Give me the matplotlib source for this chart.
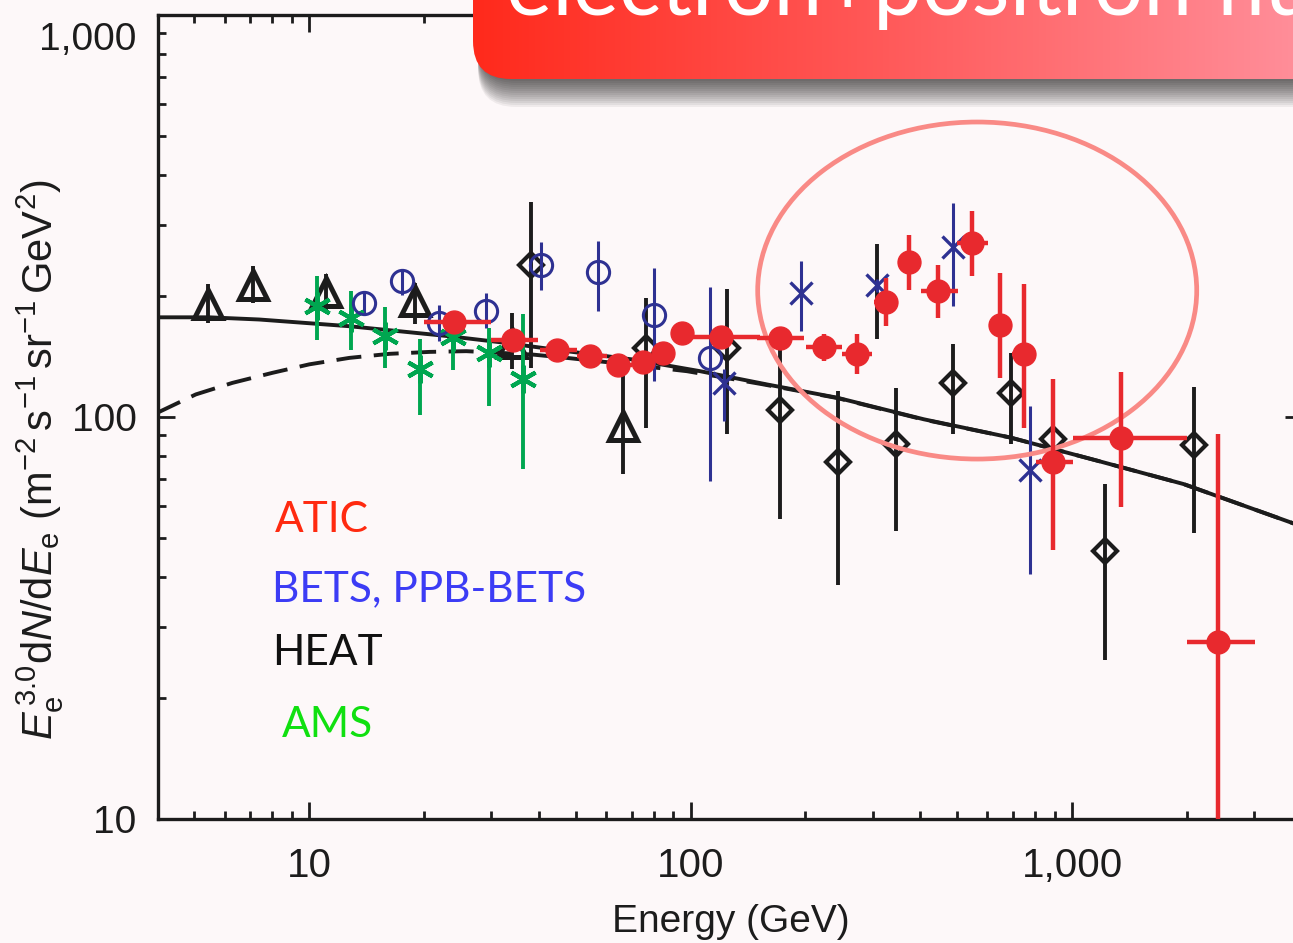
import numpy as np
import matplotlib.pyplot as plt
from matplotlib.patches import Ellipse, FancyBboxPatch
from matplotlib.colors import LinearSegmentedColormap
from matplotlib.ticker import LogLocator, NullFormatter

plt.rcParams['font.family'] = ['Liberation Sans', 'DejaVu Sans']
plt.rcParams['mathtext.fontset'] = 'custom'
plt.rcParams['mathtext.rm'] = 'Liberation Sans'
plt.rcParams['mathtext.it'] = 'Liberation Sans:italic'
plt.rcParams['lines.scale_dashes'] = False

# --- data (E in GeV, flux * E^3) ---
# model curves
line_E = [4.0, 5.46, 7.39, 12.74, 23.3, 31.6, 47.3, 70.6, 105.9, 158.5, 242, 408.6, 689, 1168, 1961, 3820]
line_F = [177, 177, 174.8, 168.2, 158.8, 153.5, 145.8, 139, 130, 120.5, 111.7, 98.7, 88.9, 77.8, 68.1, 54.3]
dash_E = [4.0, 5.04, 6.29, 8.01, 10, 12.74, 16.25, 20.7, 25.8, 38.5, 47.3, 62.6, 97.8, 152.3, 242, 408.6, 689, 1168, 1961, 3820]
dash_F = [102.5, 113.8, 121.6, 128.8, 135.2, 140.3, 143.6, 145.2, 145.8, 143, 140.3, 136.4, 130, 120.9, 111.5, 98.5, 88.9, 77.8, 68.1, 54.3]

# HEAT (triangles)
tri_E = [5.43, 7.14, 11.07, 18.9, 34.1, 66.5]
tri_F = [191, 213, 205, 194, 153, 95]
tri_lo = [171, 192, 181, 170, 132, 72]
tri_hi = [214, 237, 227, 215, 181, 133]

# HEAT / emulsion (diamonds)
dia_E = [38.1, 76.2, 124.5, 171.9, 243.6, 345.5, 488.7, 690, 893, 1221, 2084]
dia_F = [239, 148.6, 148.6, 103.9, 77.3, 85.5, 121.2, 114.9, 88.1, 46.5, 85.2]
dia_lo = [132.5, 94, 90.6, 55.7, 38.1, 52.1, 90.6, 85.5, 59.6, 24.8, 51.6]
dia_hi = [343.6, 197.8, 208.7, 157.4, 116, 118.2, 151.5, 144.4, 116, 68.1, 118.7]

# black bar without visible marker
bar_E = [308]
bar_lo = [156]
bar_hi = [269]

# BETS (open circles)
bets_E = [13.9, 17.5, 21.9, 29.0, 40.6, 57.0, 80.2, 112.5]
bets_F = [192, 217.5, 171.5, 183.3, 239.3, 229.4, 179, 140.3]
bets_lo = [180, 201.6, 154.4, 166.5, 207.5, 183, 122.8, 69.3]
bets_hi = [205, 232.6, 190.4, 203, 273, 274.5, 234.7, 210.2]

# PPB-BETS (crosses)
ppb_E = [122.5, 195, 308, 488.7, 775.6]
ppb_F = [121.7, 204, 213, 265.5, 73.8]
ppb_lo = [97.7, 163.4, 205, 188.6, 40.8]
ppb_hi = [131.6, 243.8, 221, 340, 106.5]

# AMS (asterisks)
ams_E = [10.5, 12.87, 15.84, 19.46, 23.8, 29.6, 36.4]
ams_F = [188.5, 176, 158.8, 131.3, 158, 144.5, 124]
ams_lo = [155, 147, 132.5, 101, 130.6, 106.5, 74.2]
ams_hi = [224, 205.6, 187.6, 156, 171.5, 166.5, 180]

# ATIC (filled circles)
atic_E = [23.9, 34.2, 44.5, 54.4, 64.6, 74.9, 84.8, 94.8, 120, 171.9, 223.4, 273.5,
          324.6, 374.3, 445.3, 545.8, 648, 750.3, 893.2, 1339.6, 2415]
atic_F = [172.4, 155, 146.4, 141.7, 134.4, 137.4, 144.4, 161.8, 158.2, 157.4, 149.5, 143.1,
          193.2, 242.5, 205.4, 270.7, 169.8, 143.6, 77.3, 88.8, 27.5]
atic_Elo = [20.0, 30.0, 40.2, 50.3, 60.3, 70.0, 80.0, 90.0, 94.8, 149.3, 201, 249.7,
            301.7, 349, 402, 498.6, 605.9, 697, 804.3, 1004, 2004]
atic_Ehi = [30.0, 39.8, 50.3, 60.3, 70.0, 80.0, 90.0, 100.0, 152.3, 198.8, 249.7, 299,
            349, 400, 501.6, 601.4, 697, 804, 1004, 2004, 3013]
atic_lo = [168, 151, 143, 138, 131, 134, 141, 158, 154, 153, 137.7, 127.7,
           168.2, 207.5, 176.4, 224, 125.2, 94.1, 46.7, 59.8, 5]
atic_hi = [177, 159, 150, 145.5, 138, 141, 148, 166, 162.5, 162, 161, 161,
           221.7, 282.9, 239.3, 324.6, 228, 214.2, 124, 129.6, 90.9]

legend_names = ['ATIC', 'BETS, PPB-BETS', 'HEAT', 'AMS']

BG = '#fdf8f9'
RED = '#e8292e'
BLUE = '#2e3192'
GREEN = '#00a650'
BLACK = '#1c1c1c'
ELL = '#f98a86'
legend_colors = ['#ff2a10', '#3c3cf5', '#111111', '#10e010']

W, H = 1293, 943


def yerr(v, lo, hi):
    v, lo, hi = np.array(v), np.array(lo), np.array(hi)
    return [v - lo, hi - v]


fig = plt.figure(figsize=(W / 100, H / 100), dpi=100, facecolor=BG)
ax = fig.add_axes([157.5 / W, (H - 819) / H, 1144.2 / W, 804 / H], facecolor=BG)
ax.set_xscale('log')
ax.set_yscale('log')
ax.set_xlim(4, 4000)
ax.set_ylim(10, 1000)

for s in ax.spines.values():
    s.set_linewidth(2.4)
    s.set_color(BLACK)

ax.set_xticks([10, 100, 1000])
ax.set_xticklabels(['10', '100', '1,000'])
ax.set_yticks([10, 100, 1000])
ax.set_yticklabels(['10', '100', ''])
ax.xaxis.set_minor_locator(LogLocator(base=10, subs=np.arange(2, 10)))
ax.yaxis.set_minor_locator(LogLocator(base=10, subs=np.arange(2, 10)))
ax.xaxis.set_minor_formatter(NullFormatter())
ax.yaxis.set_minor_formatter(NullFormatter())
ax.tick_params(which='both', direction='in', top=True, right=True, width=2.0, color=BLACK)
ax.tick_params(which='major', length=12)
ax.tick_params(which='minor', length=6)
ax.tick_params(axis='x', labelsize=29, pad=20, labelcolor=BLACK)
ax.tick_params(axis='y', labelsize=28, pad=15, labelcolor=BLACK)
ax.annotate('1,000', xy=(0, 1000), xycoords=('axes fraction', 'data'),
            xytext=(-15, -18), textcoords='offset points', ha='right', va='center',
            fontsize=28, color=BLACK)

# curves
ax.plot(line_E, line_F, color=BLACK, lw=2.8, zorder=2)
ax.plot(dash_E, dash_F, color=BLACK, lw=2.8, dashes=(18, 9), zorder=2)

# HEAT
ax.errorbar(tri_E, tri_F, yerr=yerr(tri_F, tri_lo, tri_hi), fmt='^', ms=20, mfc='none',
            mec=BLACK, mew=3.6, ecolor=BLACK, elinewidth=2.8, capsize=0, zorder=3)
ax.errorbar(dia_E, dia_F, yerr=yerr(dia_F, dia_lo, dia_hi), fmt='D', ms=12.5, mfc='none',
            mec=BLACK, mew=3.0, ecolor=BLACK, elinewidth=2.8, capsize=0, zorder=3)
ax.vlines(bar_E, bar_lo, bar_hi, color=BLACK, lw=2.8, zorder=3)

# BETS / PPB-BETS
ax.errorbar(bets_E, bets_F, yerr=yerr(bets_F, bets_lo, bets_hi), fmt='o', ms=16, mfc='none',
            mec=BLUE, mew=2.2, ecolor=BLUE, elinewidth=2.2, capsize=0, zorder=4)
ax.errorbar(ppb_E, ppb_F, yerr=yerr(ppb_F, ppb_lo, ppb_hi), fmt='x', ms=16,
            mec=BLUE, mew=2.4, ecolor=BLUE, elinewidth=2.2, capsize=0, zorder=4)

# AMS
ax.errorbar(ams_E, ams_F, yerr=yerr(ams_F, ams_lo, ams_hi), fmt='none',
            ecolor=GREEN, elinewidth=2.8, capsize=0, zorder=4)
ax.plot(ams_E, ams_F, ls='none', marker=(6, 2, 0), ms=20, mec=GREEN, mew=3.0, zorder=4)

# ellipse highlight
ax.add_patch(Ellipse((0.7164, 0.6573), 0.3837, 0.4192, transform=ax.transAxes,
                     fill=False, ec=ELL, lw=3.4, zorder=4.5))

# ATIC
ax.errorbar(atic_E, atic_F, yerr=yerr(atic_F, atic_lo, atic_hi),
            xerr=yerr(atic_E, atic_Elo, atic_Ehi), fmt='o', ms=16.5, color=RED,
            ecolor=RED, elinewidth=3.2, capsize=0, zorder=5)

# labels
fig.text(40 / W, 1 - 460 / H,
         r'$E_{\mathrm{e}}^{\,3.0}\mathrm{d}N/\mathrm{d}E_{\mathrm{e}}\ (\mathrm{m}^{-2}\,\mathrm{s}^{-1}\,\mathrm{sr}^{-1}\,\mathrm{GeV}^{2})$',
         rotation=90, ha='center', va='center', fontsize=30, color=BLACK)
fig.text(731 / W, 1 - 922 / H, 'Energy (GeV)', ha='center', va='center', fontsize=28, color=BLACK)

legend_pos = [(275, 531.7), (271.7, 601.7), (271.7, 665), (281.7, 736.7)]
for name, col, (px, py) in zip(legend_names, legend_colors, legend_pos):
    fig.text(px / W, 1 - py / H, name, color=col, fontsize=30.5, family=['Lato', 'DejaVu Sans'],
             ha='left', va='baseline')

# title banner (cut off at the top of the slide)
bax = fig.add_axes([0, 0, 1, 1], zorder=10)
bax.set_axis_off()
bax.patch.set_alpha(0)
for d in range(2, 30, 2):
    bax.add_patch(FancyBboxPatch((478, -200), 1000, 279 + d,
                                 boxstyle='round,pad=0,rounding_size=38',
                                 fc='black', ec='none', alpha=0.055, zorder=1))
banner = FancyBboxPatch((473, -200), 1000, 279, boxstyle='round,pad=0,rounding_size=38',
                        fc='none', ec='none', zorder=2)
bax.add_patch(banner)
cmap = LinearSegmentedColormap.from_list('banner', ['#ff2a1c', '#ff5959', '#ff8d98'])
im = bax.imshow(np.linspace(0, 1, 256).reshape(1, -1), cmap=cmap, aspect='auto',
                extent=(473, 1293, 79, -200), interpolation='bilinear', zorder=3)
im.set_clip_path(banner)
bax.text(506, 15, 'electron+positron flux', color='white', fontsize=63,
         family=['Lato', 'DejaVu Sans'], ha='left', va='baseline', zorder=4)
bax.set_xlim(0, W)
bax.set_ylim(H, 0)

fig.savefig('out.png', dpi=100, facecolor=BG)
